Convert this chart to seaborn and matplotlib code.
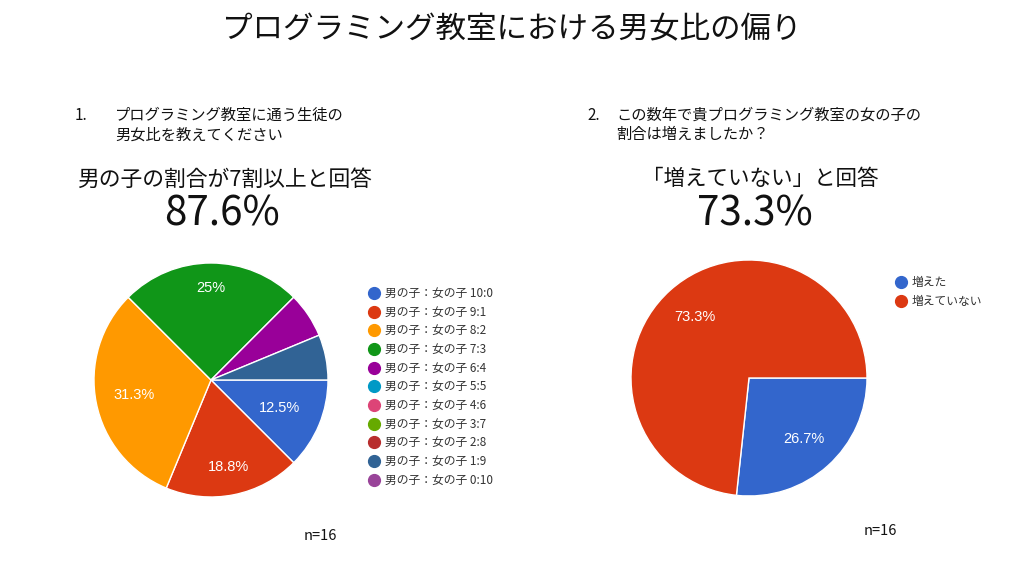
import matplotlib
matplotlib.use('Agg')
import math
import numpy as np
import matplotlib.pyplot as plt
from matplotlib.lines import Line2D
import seaborn as sns

sns.set_theme(style='white')
plt.rcParams['font.family'] = ['Noto Sans CJK JP', 'DejaVu Sans']

# Data
title = 'プログラミング教室における男女比の偏り'

q1_labels = ['男の子：女の子 10:0', '男の子：女の子 9:1', '男の子：女の子 8:2',
             '男の子：女の子 7:3', '男の子：女の子 6:4', '男の子：女の子 5:5',
             '男の子：女の子 4:6', '男の子：女の子 3:7', '男の子：女の子 2:8',
             '男の子：女の子 1:9', '男の子：女の子 0:10']
q1_counts = [2, 3, 5, 4, 1, 0, 0, 0, 0, 1, 0]
q1_question = ['1.', 'プログラミング教室に通う生徒の\n男女比を教えてください']
q1_headline = '男の子の割合が7割以上と回答'
q1_big = '87.6%'

q2_labels = ['増えた', '増えていない']
q2_values = [26.7, 73.3]
q2_question = ['2.', 'この数年で貴プログラミング教室の女の子の\n割合は増えましたか？']
q2_headline = '「増えていない」と回答'
q2_big = '73.3%'

n_text = 'n=16'

# Google chart palette
palette = sns.color_palette(['#3366cc', '#dc3912', '#ff9900', '#109618', '#990099',
                             '#0099c6', '#dd4477', '#66aa00', '#b82e2e', '#316395',
                             '#994499'])

# label distance from centre, per visible label (fraction of radius)
q1_label_dist = [0.63, 0.76, 0.67, 0.79]
q2_label_dist = [0.70, 0.69]


def pct_label(p):
    if p < 10:
        return ''
    v = math.floor(p * 10 + 0.5) / 10
    return f'{v:g}%'


def move_labels(autotexts, dists):
    shown = [t for t in autotexts if t.get_text()]
    for t, d in zip(shown, dists):
        x, y = t.get_position()
        r = np.hypot(x, y)
        t.set_position((x / r * d, y / r * d))


fig = plt.figure(figsize=(10.33, 5.8), dpi=100)
fig.patch.set_facecolor('white')

fig.text(0.495, 1 - 30 / 580, title, ha='center', va='center', fontsize=22, color='#111111')

# Left block
fig.text(75 / 1033, 1 - 116 / 580, q1_question[0], ha='left', va='center', fontsize=11, color='#111111')
fig.text(115 / 1033, 1 - 125 / 580, q1_question[1], ha='left', va='center', fontsize=11,
         color='#111111', linespacing=1.2)
fig.text(224 / 1033, 1 - 180 / 580, q1_headline, ha='center', va='center', fontsize=15.7, color='#111111')
fig.text(222 / 1033, 1 - 214 / 580, q1_big, ha='center', va='center', fontsize=29, color='#111111')

ax1 = fig.add_axes([(211 - 117) / 1033, (580 - 380 - 117) / 580, 234 / 1033, 234 / 580])
nz = [i for i, c in enumerate(q1_counts) if c > 0]
_, _, at1 = ax1.pie([q1_counts[i] for i in nz], colors=[palette[i] for i in nz], startangle=0,
                    counterclock=False, autopct=pct_label, pctdistance=0.65, radius=1,
                    wedgeprops=dict(edgecolor='white', linewidth=1),
                    textprops=dict(color='white', fontsize=10.5,
                                   family=['Liberation Sans', 'DejaVu Sans']))
move_labels(at1, q1_label_dist)
ax1.set_xlim(-1, 1)
ax1.set_ylim(-1, 1)
ax1.set_aspect('equal')
ax1.axis('off')

h1 = [Line2D([0], [0], marker='o', linestyle='', markersize=8.5, markerfacecolor=palette[i],
             markeredgecolor=palette[i]) for i in range(len(q1_labels))]
fig.legend(h1, q1_labels, loc='upper left', bbox_to_anchor=(366 / 1033, 1 - 287 / 580),
           frameon=False, fontsize=8.5, labelcolor='#333333', handletextpad=0.2,
           handlelength=1.4, labelspacing=0.48, borderaxespad=0, borderpad=0)

fig.text(320 / 1033, 1 - 536 / 580, n_text, ha='center', va='center', fontsize=10.5, color='#111111')

# Right block
fig.text(587 / 1033, 1 - 116 / 580, q2_question[0], ha='left', va='center', fontsize=11, color='#111111')
fig.text(616 / 1033, 1 - 125 / 580, q2_question[1], ha='left', va='center', fontsize=11,
         color='#111111', linespacing=1.2)
fig.text(760 / 1033, 1 - 179 / 580, q2_headline, ha='center', va='center', fontsize=15.5, color='#111111')
fig.text(755 / 1033, 1 - 214 / 580, q2_big, ha='center', va='center', fontsize=29, color='#111111')

ax2 = fig.add_axes([(749 - 118) / 1033, (580 - 378 - 118) / 580, 236 / 1033, 236 / 580])
_, _, at2 = ax2.pie(q2_values, colors=palette[:2], startangle=0, counterclock=False,
                    autopct=pct_label, pctdistance=0.7, radius=1,
                    wedgeprops=dict(edgecolor='white', linewidth=1),
                    textprops=dict(color='white', fontsize=10.5,
                                   family=['Liberation Sans', 'DejaVu Sans']))
move_labels(at2, q2_label_dist)
ax2.set_xlim(-1, 1)
ax2.set_ylim(-1, 1)
ax2.set_aspect('equal')
ax2.axis('off')

h2 = [Line2D([0], [0], marker='o', linestyle='', markersize=8.5, markerfacecolor=palette[i],
             markeredgecolor=palette[i]) for i in range(len(q2_labels))]
fig.legend(h2, q2_labels, loc='upper left', bbox_to_anchor=(893 / 1033, 1 - 276 / 580),
           frameon=False, fontsize=8.5, labelcolor='#333333', handletextpad=0.2,
           handlelength=1.4, labelspacing=0.48, borderaxespad=0, borderpad=0)

fig.text(880 / 1033, 1 - 531 / 580, n_text, ha='center', va='center', fontsize=10.5, color='#111111')

fig.savefig('out.png', dpi=100, facecolor='white')
